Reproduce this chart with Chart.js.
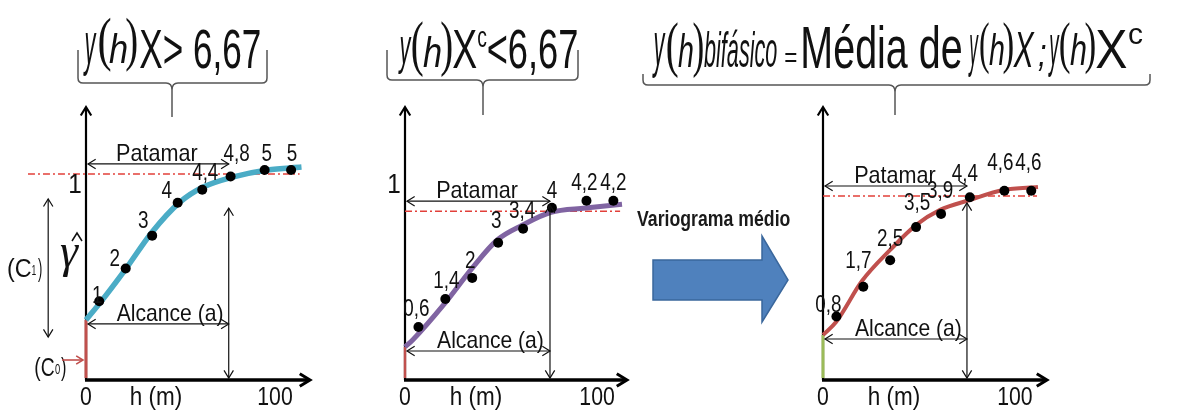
<!DOCTYPE html>
<html>
<head>
<meta charset="utf-8">
<script src="https://cdn.jsdelivr.net/npm/chart.js@4.4.1/dist/chart.umd.min.js"></script>
<style>
  html, body { margin: 0; padding: 0; background: #fff; }
  #stage { position: relative; width: 1197px; height: 410px; overflow: hidden; }
  #stage canvas { position: absolute; top: 0; }
  #overlay { left: 0; pointer-events: none; }
</style>
</head>
<body>
<div id="stage">
  <canvas id="c1" width="380" height="410" style="left:0px"></canvas>
  <canvas id="c2" width="260" height="410" style="left:380px"></canvas>
  <canvas id="c3" width="397" height="410" style="left:800px"></canvas>
  <canvas id="overlay" width="1197" height="410"></canvas>
</div>
<script>
/* -----------------------------------------------------------
      DATA
------------------------------------------------------------*/
// lag distances h (m) of the experimental points
const lags = [7, 21, 35, 48.5, 61.5, 76.5, 94.5, 108.5];

// experimental semivariances
const gammaX = [1, 2, 3, 4, 4.4, 4.8, 5, 5];
const gammaXc = [0.6, 1.4, 2, 3, 3.4, 4, 4.2, 4.2];
const gammaMean = [0.8, 1.7, 2.5, 3.5, 3.9, 4.4, 4.6, 4.6];

// fitted model curves (sampled)
const fitLagsX = [0, 7.4, 20.6, 35, 49.7, 62, 78, 96, 114];
const fitX = [0.43, 0.95, 1.95, 3.11, 4.02, 4.48, 4.79, 5.0, 5.09];
const fitLagsXc = [0, 4, 20.8, 35, 48, 61, 76, 94, 113];
const fitXc = [0.03, 0.23, 1.28, 2.28, 3.08, 3.5, 3.87, 3.99, 4.1];
const fitLagsMean = [0, 6.8, 20.3, 35, 48.4, 61, 76.5, 94, 112];
const fitMean = [0.24, 0.63, 1.87, 2.81, 3.56, 4.02, 4.32, 4.62, 4.71];

// model parameters: sill (patamar), range (alcance), top of the range marker
const sills = [4.88, 3.9, 4.44];
const ranges = [75.5, 75.5, 75];
const rangeTops = [3.84, 4.07, 4.23];

const xTicks = [0, 100];
const xTitle = "h (m)";

/* -----------------------------------------------------------
      FONTS + DRAW HELPERS
------------------------------------------------------------*/
const NARROW = "'Liberation Sans Narrow', 'Arial Narrow', sans-serif";
const INK = "#111";

function fmt(v) {
  return String(v).replace(".", ",");
}

// centered (or aligned) text with horizontal squeeze, y = baseline
function text(ctx, str, x, y, size, sx, opts) {
  opts = opts || {};
  ctx.save();
  ctx.font = (opts.weight || "") + " " + size + "px " + (opts.family || NARROW);
  ctx.fillStyle = opts.color || INK;
  ctx.textAlign = opts.align || "center";
  ctx.textBaseline = "alphabetic";
  ctx.translate(x, y);
  ctx.scale(sx, 1);
  ctx.fillText(str, 0, 0);
  ctx.restore();
}

// text stretched to a given width, sitting on a baseline
function fitText(ctx, str, font, x0, x1, base, color) {
  ctx.save();
  ctx.font = font;
  const m = ctx.measureText(str);
  const w = m.actualBoundingBoxLeft + m.actualBoundingBoxRight;
  ctx.translate(x0, base);
  ctx.scale((x1 - x0) / w, 1);
  ctx.fillStyle = color || INK;
  ctx.textAlign = "left";
  ctx.textBaseline = "alphabetic";
  ctx.fillText(str, m.actualBoundingBoxLeft, 0);
  ctx.restore();
}

// single glyph stretched into an ink box
function fitBox(ctx, str, font, x0, x1, y0, y1, color) {
  ctx.save();
  ctx.font = font;
  const m = ctx.measureText(str);
  const w = m.actualBoundingBoxLeft + m.actualBoundingBoxRight;
  const h = m.actualBoundingBoxAscent + m.actualBoundingBoxDescent;
  ctx.translate(x0, y0);
  ctx.scale((x1 - x0) / w, (y1 - y0) / h);
  ctx.fillStyle = color || INK;
  ctx.textAlign = "left";
  ctx.textBaseline = "alphabetic";
  ctx.fillText(str, m.actualBoundingBoxLeft, m.actualBoundingBoxAscent);
  ctx.restore();
}

function line(ctx, x0, y0, x1, y1) {
  ctx.beginPath();
  ctx.moveTo(x0, y0);
  ctx.lineTo(x1, y1);
  ctx.stroke();
}

function chevron(ctx, x, y, ang, size) {
  ctx.beginPath();
  ctx.moveTo(x - size * Math.cos(ang - 0.55), y - size * Math.sin(ang - 0.55));
  ctx.lineTo(x, y);
  ctx.lineTo(x - size * Math.cos(ang + 0.55), y - size * Math.sin(ang + 0.55));
  ctx.stroke();
}

function dblArrow(ctx, x0, y0, x1, y1, size) {
  const ang = Math.atan2(y1 - y0, x1 - x0);
  line(ctx, x0, y0, x1, y1);
  chevron(ctx, x1, y1, ang, size);
  chevron(ctx, x0, y0, ang + Math.PI, size);
}

/* -----------------------------------------------------------
      VARIOGRAM DECOR PLUGIN (axes, sill, arrows, labels)
------------------------------------------------------------*/
const decor = {
  id: "decor",
  beforeDatasetsDraw(chart, _args, o) {
    const { ctx, chartArea: a } = chart;
    const x = chart.scales.x, y = chart.scales.y;
    const fit0 = chart.data.datasets[1].data[0];
    ctx.save();

    // axes
    ctx.strokeStyle = "#000";
    ctx.lineWidth = 2.2;
    line(ctx, a.left, a.bottom, a.left, a.top + 1);
    chevron(ctx, a.left, a.top, -Math.PI / 2, 10);
    ctx.lineWidth = 3.5;
    line(ctx, a.left - 1, a.bottom, a.right - 2, a.bottom);
    ctx.lineWidth = 3;
    chevron(ctx, a.right, a.bottom, 0, 12);

    // sill
    ctx.strokeStyle = "#e2403a";
    ctx.lineWidth = 1.6;
    ctx.setLineDash([7, 3, 2, 3]);
    const ys = y.getPixelForValue(o.sill);
    line(ctx, x.getPixelForValue(o.sillFrom), ys, x.getPixelForValue(o.sillTo), ys);
    ctx.setLineDash([]);

    // nugget jump at the origin
    ctx.strokeStyle = o.nuggetColor;
    ctx.lineWidth = o.nuggetWidth;
    line(ctx, a.left, a.bottom - 2, a.left, y.getPixelForValue(fit0.y));
    ctx.restore();
  },
  afterDatasetsDraw(chart, _args, o) {
    const { ctx, chartArea: a } = chart;
    const x = chart.scales.x, y = chart.scales.y;
    const fit0 = chart.data.datasets[1].data[0];
    const xr = x.getPixelForValue(o.range);
    ctx.save();
    ctx.strokeStyle = INK;
    ctx.lineWidth = 1.2;

    // patamar + alcance arrows
    const yPat = y.getPixelForValue(o.sill) - 10;
    const yAlc = y.getPixelForValue(fit0.y) + 4;
    dblArrow(ctx, a.left + 2, yPat, xr, yPat, 9);
    dblArrow(ctx, a.left + 2, yAlc, xr, yAlc, 9);
    dblArrow(ctx, xr, a.bottom - 2, xr, y.getPixelForValue(o.rangeTop), 9);
    text(ctx, "Patamar", x.getPixelForValue(37.5), yPat - 3, 24, 0.9);
    text(ctx, "Alcance (a)", x.getPixelForValue(44.5), yAlc - 3, 24, 0.88);

    // x axis labels
    xTicks.forEach(v => text(ctx, String(v), x.getPixelForValue(v), 405, 25, 0.85));
    text(ctx, xTitle, x.getPixelForValue(37), 405, 25, 0.9);

    if (o.oneAt != null) text(ctx, "1", a.left - 11, y.getPixelForValue(o.oneAt) + 10, 27, 0.9);

    // point value labels
    const pts = chart.data.datasets[0].data;
    chart.getDatasetMeta(0).data.forEach((el, i) => {
      const s = o.labelShift[i];
      text(ctx, fmt(pts[i].y), el.x + s[0], el.y + s[1] + 8, 23, 0.82);
    });

    if (o.components) drawComponents(ctx, a, x, y);
    ctx.restore();
  }
};

// C0 / C1 / gamma-hat markings beside the first panel
function drawComponents(ctx, a, x, y) {
  const L = a.left;
  ctx.strokeStyle = INK;
  ctx.lineWidth = 1.2;
  dblArrow(ctx, x.getPixelForValue(-20), y.getPixelForValue(4.12), x.getPixelForValue(-20), y.getPixelForValue(-0.09), 9);

  fitText(ctx, "(C", "26px " + NARROW, L - 78, L - 55, 277);
  fitText(ctx, "1", "15px " + NARROW, L - 54, L - 50, 275);
  fitText(ctx, ")", "26px " + NARROW, L - 48, L - 44, 277);

  fitBox(ctx, "\u03b3", "italic 48px 'Liberation Serif', serif", L - 26, L - 7, 244, 277);
  ctx.lineWidth = 1.5;
  ctx.beginPath();
  ctx.moveTo(L - 14, 241);
  ctx.lineTo(L - 9, 233);
  ctx.lineTo(L - 4, 241);
  ctx.stroke();

  fitText(ctx, "(C", "26px " + NARROW, L - 51, L - 32, 376);
  fitText(ctx, "0", "15px " + NARROW, L - 31, L - 26, 374);
  fitText(ctx, ")", "26px " + NARROW, L - 25, L - 20, 376);
  ctx.strokeStyle = "#c0504d";
  ctx.lineWidth = 1.6;
  line(ctx, L - 24, 360, L - 3, 360);
  chevron(ctx, L - 3, 360, 0, 8);
}

/* -----------------------------------------------------------
      CHARTS
------------------------------------------------------------*/
function makeChart(id, lagVals, gammas, fitLags, fitVals, look, decorOpts) {
  return new Chart(document.getElementById(id), {
    type: "scatter",
    data: {
      datasets: [
        {
          data: lagVals.map((h, i) => ({ x: h, y: gammas[i] })),
          pointRadius: 5,
          pointBackgroundColor: "#000",
          pointBorderWidth: 0,
          order: 0,
          clip: false
        },
        {
          data: fitLags.map((h, i) => ({ x: h, y: fitVals[i] })),
          showLine: true,
          pointRadius: 0,
          borderColor: look.curveColor,
          borderWidth: look.curveWidth,
          cubicInterpolationMode: "monotone",
          tension: 0.4,
          order: 1,
          clip: false
        }
      ]
    },
    options: {
      responsive: false,
      animation: false,
      events: [],
      layout: { padding: look.padding },
      scales: {
        x: { type: "linear", min: 0, max: look.xMax, display: false },
        y: { type: "linear", min: look.yMin, max: look.yMax, display: false }
      },
      plugins: {
        legend: { display: false },
        tooltip: { enabled: false },
        decor: decorOpts
      }
    },
    plugins: [decor]
  });
}

makeChart("c1", lags, gammaX, fitLagsX, fitX,
  { curveColor: "#4bacc6", curveWidth: 5.5, xMax: 118.5, yMin: -1.4, yMax: 6.92,
    padding: { left: 86, right: 70, top: 107, bottom: 30 } },
  { sill: sills[0], range: ranges[0], rangeTop: rangeTops[0], sillFrom: -30.7, sillTo: 113,
    nuggetColor: "#c0504d", nuggetWidth: 3, oneAt: 4.6, components: true,
    labelShift: [[-2, -6], [-11, -10], [-9, -16], [-11, -13], [3, -18], [6, -24], [2, -17], [1, -17]] });

makeChart("c2", lags, gammaXc, fitLagsXc, fitXc,
  { curveColor: "#8064a2", curveWidth: 5, xMax: 115.6, yMin: -0.91, yMax: 6.87,
    padding: { left: 25, right: 13, top: 107, bottom: 30 } },
  { sill: sills[1], range: ranges[1], rangeTop: rangeTops[1], sillFrom: 0, sillTo: 112,
    nuggetColor: "#c0504d", nuggetWidth: 2.5, oneAt: 4.7,
    labelShift: [[-2, -19], [1, -19], [-2, -18], [-2, -23], [-1, -19], [0, -18], [-2, -19], [0, -19]] });

makeChart("c3", lags, gammaMean, fitLagsMean, fitMean,
  { curveColor: "#c0504d", curveWidth: 4, xMax: 116.7, yMin: -1.12, yMax: 7.13,
    padding: { left: 23, right: 150, top: 107, bottom: 30 } },
  { sill: sills[2], range: ranges[2], rangeTop: rangeTops[2], sillFrom: 0, sillTo: 111.5,
    nuggetColor: "#9bbb59", nuggetWidth: 3,
    labelShift: [[-8, -12], [-5, -27], [0, -22], [1, -25], [-1, -24], [-5, -24], [-4, -29], [-3, -29]] });

/* -----------------------------------------------------------
      TITLES, BRACES, MIDDLE ARROW
------------------------------------------------------------*/
const ITAL = "italic 42px 'Liberation Sans', Arial, sans-serif";
const PAREN = "60px 'Liberation Serif', serif";
const BIG = "56px " + NARROW;

function brace(ctx, x0, x1, top, yH, cx, tip) {
  ctx.beginPath();
  ctx.moveTo(x0, top);
  ctx.lineTo(x0, yH - 5);
  ctx.quadraticCurveTo(x0, yH, x0 + 5, yH);
  ctx.lineTo(cx - 6, yH);
  ctx.quadraticCurveTo(cx, yH, cx, yH + 7);
  ctx.lineTo(cx, tip);
  ctx.moveTo(cx, yH + 7);
  ctx.quadraticCurveTo(cx, yH, cx + 6, yH);
  ctx.lineTo(x1 - 5, yH);
  ctx.quadraticCurveTo(x1, yH, x1, yH - 5);
  ctx.lineTo(x1, top);
  ctx.stroke();
}

function drawOverlay() {
  const ctx = document.getElementById("overlay").getContext("2d");

  // title 1
  fitBox(ctx, "y", ITAL, 83, 97, 32, 77);
  fitBox(ctx, "(", PAREN, 99, 111, 18, 72);
  fitBox(ctx, "h", ITAL, 109, 127, 33, 63);
  fitBox(ctx, ")", PAREN, 126, 137, 17, 72);
  fitText(ctx, "X> 6,67", BIG, 140, 260, 68);

  // title 2
  fitBox(ctx, "y", ITAL, 398, 412, 37, 75);
  fitBox(ctx, "(", PAREN, 412, 423, 20, 77);
  fitBox(ctx, "h", ITAL, 423, 441, 35, 67);
  fitBox(ctx, ")", PAREN, 441, 452, 20, 77);
  fitText(ctx, "X", BIG, 453, 477, 68);
  fitText(ctx, "c", "30px " + NARROW, 478, 487, 47);
  fitText(ctx, "<6,67", BIG, 488, 577, 68);

  // title 3
  fitBox(ctx, "y", ITAL, 652, 666, 32, 78);
  fitBox(ctx, "(", PAREN, 667, 678, 22, 78);
  fitBox(ctx, "h", ITAL, 678, 693, 33, 67);
  fitBox(ctx, ")", PAREN, 693, 703, 22, 78);
  fitText(ctx, "bif\u00e1sico", "italic 50px 'Liberation Sans', Arial, sans-serif", 704, 777, 67);
  fitBox(ctx, "=", "30px 'Liberation Sans', Arial, sans-serif", 785, 797, 53, 62);
  fitText(ctx, "M\u00e9dia de", "60px " + NARROW, 803, 961, 68);
  fitBox(ctx, "y", ITAL, 968, 979, 33, 77);
  fitBox(ctx, "(", PAREN, 980, 989, 22, 75);
  fitBox(ctx, "h", ITAL, 989, 1004, 32, 65);
  fitBox(ctx, ")", PAREN, 1003, 1013, 22, 75);
  fitBox(ctx, "X", ITAL, 1013, 1035, 32, 67);
  fitBox(ctx, ";", ITAL, 1038, 1046, 45, 72);
  fitBox(ctx, "y", ITAL, 1048, 1060, 33, 77);
  fitBox(ctx, "(", PAREN, 1060, 1070, 22, 75);
  fitBox(ctx, "h", ITAL, 1070, 1086, 32, 65);
  fitBox(ctx, ")", PAREN, 1085, 1095, 22, 75);
  fitText(ctx, "X", BIG, 1096, 1127, 68);
  fitText(ctx, "c", "30px " + NARROW, 1129, 1143, 44);

  // braces
  ctx.strokeStyle = "#555";
  ctx.lineWidth = 1.5;
  brace(ctx, 78, 267, 50, 83, 172, 117);
  brace(ctx, 387, 578, 50, 80, 483, 115);
  brace(ctx, 643, 1150, 74, 85, 895, 115);

  // "Variograma médio" + block arrow
  fitText(ctx, "Variograma m\u00e9dio", "bold 22px " + NARROW, 637, 790, 226, "#1a1a1a");
  ctx.beginPath();
  ctx.moveTo(653, 260);
  ctx.lineTo(762, 260);
  ctx.lineTo(762, 236);
  ctx.lineTo(788, 280);
  ctx.lineTo(762, 322);
  ctx.lineTo(762, 300);
  ctx.lineTo(653, 300);
  ctx.closePath();
  ctx.fillStyle = "#4f81bd";
  ctx.fill();
  ctx.strokeStyle = "#3a679c";
  ctx.lineWidth = 1.5;
  ctx.stroke();
}

drawOverlay();
</script>
</body>
</html>
